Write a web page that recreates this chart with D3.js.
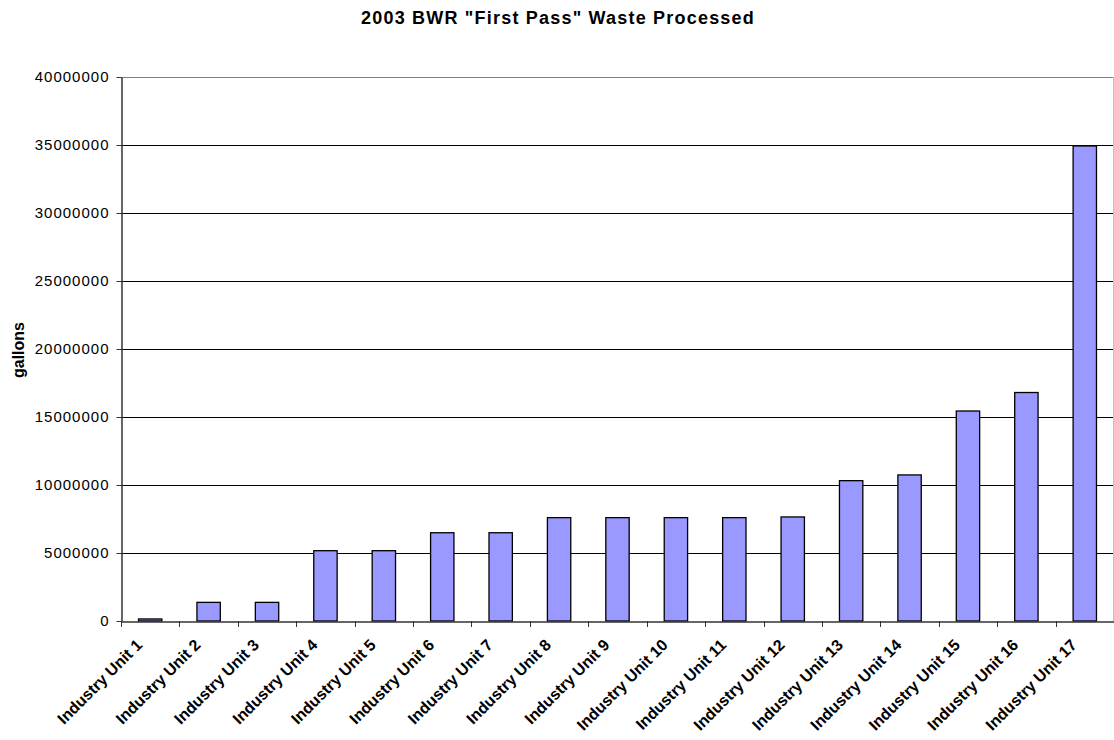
<!DOCTYPE html>
<html>
<head>
<meta charset="utf-8">
<script src="https://cdn.jsdelivr.net/npm/d3@7"></script>
<style>
  html, body { margin: 0; padding: 0; background: #fff; }
  svg { display: block; font-family: "Liberation Sans", Arial, sans-serif; }
</style>
</head>
<body>
<svg id="chart" width="1114" height="740"></svg>
<script>
const categories = ["Industry Unit 1","Industry Unit 2","Industry Unit 3","Industry Unit 4","Industry Unit 5","Industry Unit 6","Industry Unit 7","Industry Unit 8","Industry Unit 9","Industry Unit 10","Industry Unit 11","Industry Unit 12","Industry Unit 13","Industry Unit 14","Industry Unit 15","Industry Unit 16","Industry Unit 17"];
const values = [150000, 1370000, 1370000, 5170000, 5170000, 6490000, 6490000, 7600000, 7600000, 7600000, 7600000, 7650000, 10320000, 10740000, 15440000, 16800000, 34930000];
const yTicks = [0, 5000000, 10000000, 15000000, 20000000, 25000000, 30000000, 35000000, 40000000];
const title = '2003 BWR "First Pass" Waste Processed';
const yTitle = "gallons";

const svg = d3.select("#chart");
const mLeft = 121, mRight = 1114, mTop = 77, mBottom = 621;

const x = d3.scaleBand().domain(categories).range([mLeft, mRight]).paddingInner(0).paddingOuter(0);
const y = d3.scaleLinear().domain([0, 40000000]).range([mBottom, mTop]);

// plot border (right side light gray)
svg.append("line").attr("x1", mRight - 0.5).attr("x2", mRight - 0.5).attr("y1", mTop).attr("y2", mBottom)
  .attr("stroke", "#c0c0c0").attr("stroke-width", 1);

// gridlines
svg.append("g").selectAll("line").data(yTicks.filter(d => d > 0)).join("line")
  .attr("x1", mLeft).attr("x2", mRight - 1)
  .attr("y1", d => Math.round(y(d)) + 0.5).attr("y2", d => Math.round(y(d)) + 0.5)
  .attr("stroke", d => d === 40000000 ? "#808080" : "#000").attr("stroke-width", 1);

// bars
const bw = x.bandwidth() * 0.4;
svg.append("g").selectAll("rect").data(values).join("rect")
  .attr("x", (d, i) => x(categories[i]) + (x.bandwidth() - bw) / 2)
  .attr("y", d => y(d))
  .attr("width", bw)
  .attr("height", d => mBottom - y(d))
  .attr("fill", "#9999FF")
  .attr("stroke", "#000").attr("stroke-width", 1.3);

// y axis
const yAxis = d3.axisLeft(y).tickValues(yTicks).tickSize(5).tickSizeOuter(0).tickFormat(d3.format("d"));
const gy = svg.append("g").attr("transform", `translate(${mLeft + 0.5},0)`).call(yAxis);
gy.select(".domain").attr("stroke", "#333").attr("stroke-width", 1.5);
gy.selectAll(".tick line").attr("stroke", "#333");
gy.selectAll(".tick text").attr("font-size", 15).attr("letter-spacing", 1).attr("fill", "#000").attr("x", -12)
  .attr("font-family", "'Liberation Sans', Arial, sans-serif");

// x axis
const xAxis = d3.axisBottom(x).tickSize(0).tickFormat("");
const gx = svg.append("g").attr("transform", `translate(0,${mBottom + 0.5})`).call(xAxis);
gx.select(".domain").attr("stroke", "#333").attr("stroke-width", 1.5);
gx.selectAll(".tick").remove();
// boundary ticks
const bounds = categories.map(c => x(c)).concat([mRight]);
svg.append("g").selectAll("line").data(bounds).join("line")
  .attr("x1", d => Math.round(d) + 0.5).attr("x2", d => Math.round(d) + 0.5)
  .attr("y1", mBottom).attr("y2", mBottom + 6)
  .attr("stroke", "#333").attr("stroke-width", 1);

// x labels
svg.append("g").selectAll("text").data(categories).join("text")
  .attr("transform", d => `translate(${x(d) + x.bandwidth() / 2 - 7},646) rotate(-45)`)
  .attr("text-anchor", "end")
  .attr("font-size", 16).attr("font-weight", "bold").attr("fill", "#000")
  .text(d => d);

// title
svg.append("text").attr("x", 558).attr("y", 24).attr("text-anchor", "middle")
  .attr("font-size", 18).attr("letter-spacing", 1.2).attr("font-weight", "bold").text(title);

// y title
svg.append("text").attr("transform", `translate(24,350) rotate(-90)`).attr("text-anchor", "middle")
  .attr("font-size", 16).attr("font-weight", "bold").text(yTitle);
</script>
</body>
</html>
